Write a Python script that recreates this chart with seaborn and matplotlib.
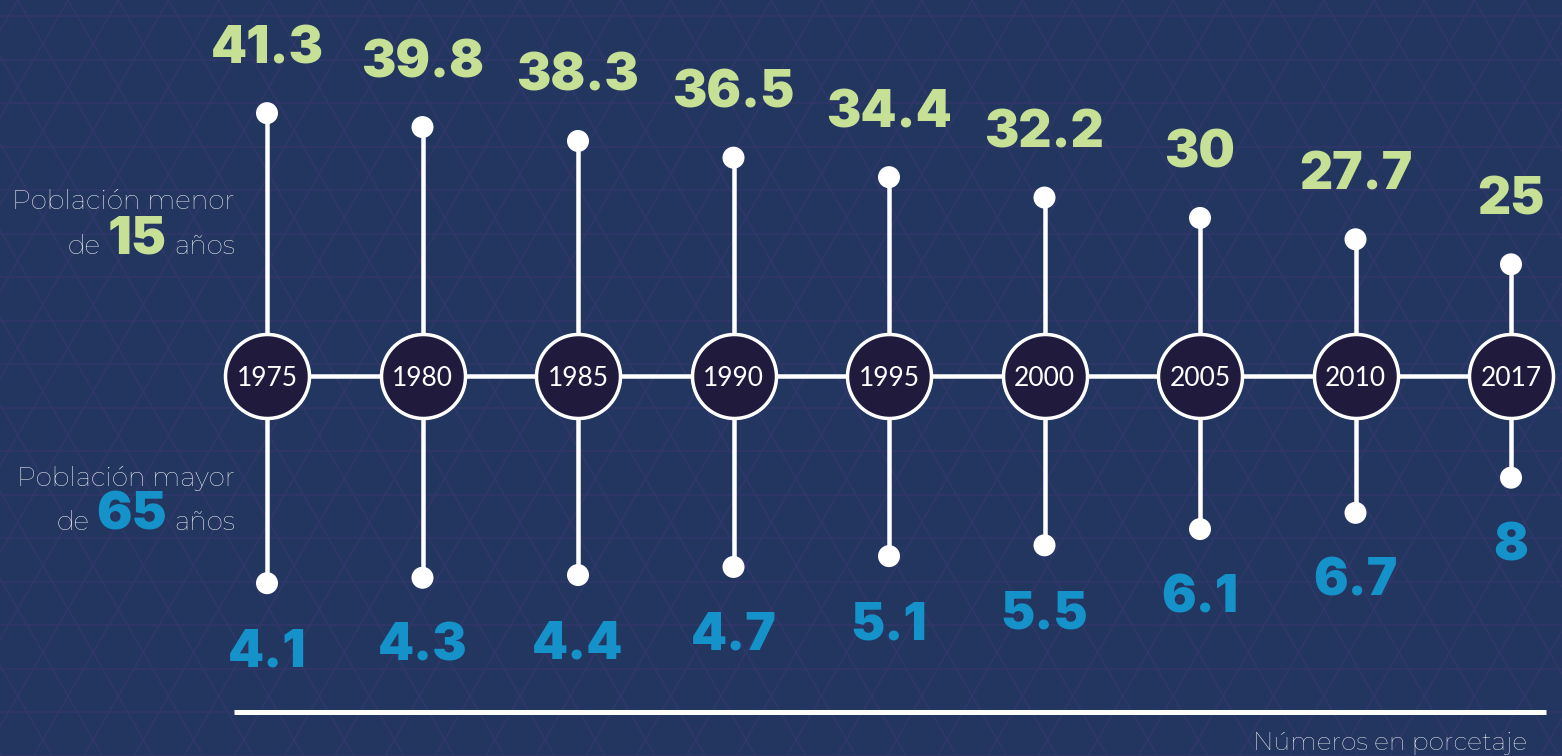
import numpy as np
import matplotlib
matplotlib.use("Agg")
import matplotlib.pyplot as plt
from matplotlib import font_manager as fm
import seaborn as sns

# ---------------- data ----------------
years = ["1975", "1980", "1985", "1990", "1995", "2000", "2005", "2010", "2017"]
menor_15 = [41.3, 39.8, 38.3, 36.5, 34.4, 32.2, 30, 27.7, 25]
mayor_65 = [4.1, 4.3, 4.4, 4.7, 5.1, 5.5, 6.1, 6.7, 8]
value_labels_top = ["41.3", "39.8", "38.3", "36.5", "34.4", "32.2", "30", "27.7", "25"]
value_labels_bot = ["4.1", "4.3", "4.4", "4.7", "5.1", "5.5", "6.1", "6.7", "8"]

# ---------------- style ----------------
BG = "#22365f"
PATTERN = "#31376a"
GREEN = "#c6e096"
BLUE = "#1592c9"
CIRCLE = "#201b3d"
WHITE = "#ffffff"
W, H = 1562, 756
DPI = 100
PT = 72 / DPI  # points per pixel

sns.set_theme(style="white")
plt.rcParams["font.family"] = ["Inter", "Lato", "DejaVu Sans"]


def heaviest(prefs, min_w=800):
    for fam in prefs:
        ws = [f.weight for f in fm.fontManager.ttflist if f.name == fam]
        ws = [w if isinstance(w, int) else 400 for w in ws]
        if ws and max(ws) >= min_w:
            return fam, max(ws)
    return "DejaVu Sans", "bold"


def lightest(prefs, target=300):
    for fam in prefs:
        ws = [f.weight for f in fm.fontManager.ttflist if f.name == fam]
        ws = [w if isinstance(w, int) else 400 for w in ws]
        if ws and min(ws) <= target:
            return fam, target
    return "Lato", "normal"


hf, hw = heaviest(["Montserrat", "Inter", "Roboto", "Open Sans", "Noto Sans", "Lato"])
lf, lw_ = lightest(["Montserrat", "Inter", "Open Sans", "Roboto", "Lato"])
HEAVY = dict(family=[hf, "DejaVu Sans"], fontweight=hw)
LIGHT = dict(family=[lf, "DejaVu Sans"], fontweight=lw_)
REG = dict(family=["Lato", "DejaVu Sans"], fontweight="normal")

fig = plt.figure(figsize=(W / DPI, H / DPI), dpi=DPI, facecolor=BG)

# ---- decorative background pattern (triangular lattice) ----
bg = fig.add_axes([0, 0, 1, 1], zorder=0)
bg.set_xlim(0, W)
bg.set_ylim(H, 0)
bg.set_facecolor(BG)
bg.axis("off")
row_h = 43.5
side = 2 * row_h / np.sqrt(3)
y0 = 16
for k in range(-1, int(H / row_h) + 2):
    yy = y0 + k * row_h
    bg.plot([0, W], [yy, yy], color=PATTERN, lw=1.2, zorder=0)
span = H / np.tan(np.radians(60))
for k in range(-40, int(W / side) + 40):
    xx = 68 + k * side
    bg.plot([xx, xx + span], [0, H], color=PATTERN, lw=1.2, zorder=0)
    bg.plot([xx, xx - span], [0, H], color=PATTERN, lw=1.2, zorder=0)

# ---- shared x scale: category index -> pixel ----
x = np.arange(len(years))
x_first_px, step_px = 267, 155.5
xlim = (-x_first_px / step_px, (W - x_first_px) / step_px)
center_px = 376

# top axes (values above the centre line)
top_base, top_max = 12.96, 53.5
ax_top = fig.add_axes([0, (H - center_px) / H, 1, center_px / H], zorder=2)
ax_top.set_xlim(*xlim)
ax_top.set_ylim(top_base, top_max)
ax_top.axis("off")

# bottom axes (values below the centre line)
bot_base, bot_min = 11.76, -2.29
ax_bot = fig.add_axes([0, 0, 1, (H - center_px) / H], zorder=2)
ax_bot.set_xlim(*xlim)
ax_bot.set_ylim(bot_min, bot_base)
ax_bot.axis("off")

# middle axes for the timeline (drawn on top of stems)
ax_mid = fig.add_axes([0, 0, 1, 1], zorder=3)
ax_mid.set_xlim(*xlim)
ax_mid.set_ylim(H, 0)
ax_mid.axis("off")

stem_lw = 4.5 * PT
dot_s = (22 * PT) ** 2

# stems
ax_top.vlines(x, top_base, menor_15, color=WHITE, lw=stem_lw, zorder=2)
ax_bot.vlines(x, mayor_65, bot_base, color=WHITE, lw=stem_lw, zorder=2)

# dots
sns.scatterplot(x=x, y=menor_15, ax=ax_top, s=dot_s, color=WHITE,
                edgecolor="none", zorder=3, legend=False, clip_on=False)
sns.scatterplot(x=x, y=mayor_65, ax=ax_bot, s=dot_s, color=WHITE,
                edgecolor="none", zorder=3, legend=False, clip_on=False)

# centre timeline line
ax_mid.plot([x[0], x[-1]], [center_px, center_px], color=WHITE, lw=4.5 * PT,
            zorder=3, solid_capstyle="butt")

# year circles
sns.scatterplot(x=x, y=[center_px] * len(x), ax=ax_mid, s=(84 * PT) ** 2,
                color=CIRCLE, edgecolor=WHITE, linewidth=3.5 * PT,
                zorder=4, legend=False, clip_on=False)
for xi, yr in zip(x, years):
    ax_mid.text(xi, center_px, yr, ha="center", va="center_baseline",
                color=WHITE, fontsize=19, zorder=5, **REG)

# value labels
for xi, v, lab in zip(x, menor_15, value_labels_top):
    ax_top.annotate(lab, (xi, v), xytext=(0, 50 * PT), textcoords="offset points",
                    ha="center", va="baseline", color=GREEN, fontsize=37,
                    zorder=5, annotation_clip=False, **HEAVY)
for xi, v, lab in zip(x, mayor_65, value_labels_bot):
    ax_bot.annotate(lab, (xi, v), xytext=(0, -83 * PT), textcoords="offset points",
                    ha="center", va="baseline", color=BLUE, fontsize=37,
                    zorder=5, annotation_clip=False, **HEAVY)

# ---- bottom rule and note ----
ov = fig.add_axes([0, 0, 1, 1], zorder=6)
ov.set_xlim(0, W)
ov.set_ylim(H, 0)
ov.axis("off")
ov.plot([234, 1546], [712, 712], color=WHITE, lw=5 * PT, solid_capstyle="butt")
ov.text(1527, 750, "Números en porcetaje", ha="right", va="baseline",
        color=WHITE, fontsize=18, **LIGHT)

# ---- left legend texts ----
ov.text(235, 209, "Población menor", ha="right", va="baseline",
        color=WHITE, fontsize=19, **LIGHT)
ov.text(235, 486, "Población mayor", ha="right", va="baseline",
        color=WHITE, fontsize=19, **LIGHT)


def mixed_line(y_base, big, big_color):
    t_anos = ov.text(235, y_base, "años", ha="right", va="baseline",
                     color=WHITE, fontsize=19, **LIGHT)
    fig.canvas.draw()
    r = fig.canvas.get_renderer()
    bb = t_anos.get_window_extent(r)
    inv = ov.transData.inverted()
    x_left = inv.transform((bb.x0, bb.y0))[0]
    t_big = ov.text(x_left - 7, y_base, big, ha="right", va="baseline",
                    color=big_color, fontsize=38, **HEAVY)
    fig.canvas.draw()
    bb2 = t_big.get_window_extent(r)
    x_left2 = inv.transform((bb2.x0, bb2.y0))[0]
    ov.text(x_left2 - 7, y_base, "de", ha="right", va="baseline",
            color=WHITE, fontsize=19, **LIGHT)


mixed_line(254, "15", GREEN)
mixed_line(530, "65", BLUE)

fig.savefig("out.png", dpi=DPI, facecolor=BG)
